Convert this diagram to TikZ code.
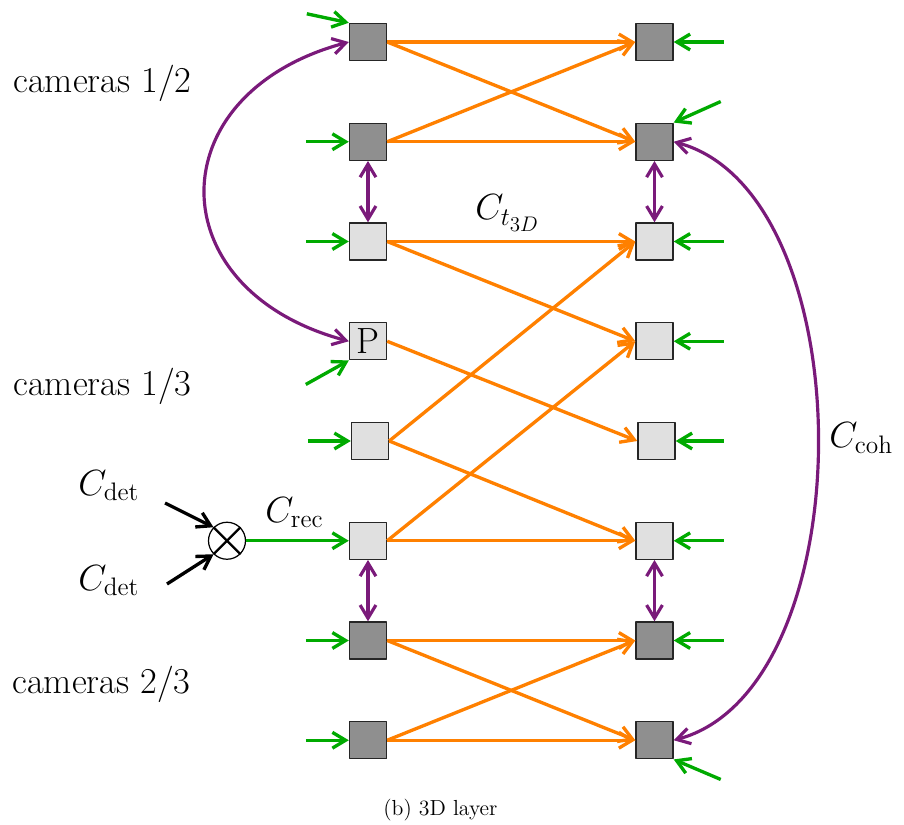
\documentclass[tikz,border=0pt]{standalone}
\usetikzlibrary{arrows.meta}
\definecolor{corange}{RGB}{255,128,0}
\definecolor{cgreen}{RGB}{0,170,0}
\definecolor{cpurple}{RGB}{122,26,122}
\begin{document}
\begin{tikzpicture}[line join=round,>={Straight Barb[length=7.5pt,width=9pt]},every node/.style={inner sep=0pt,font=\huge},
  dbox/.style={draw=black!85,line width=0.8pt,fill=black!44,minimum size=0.74cm},
  lbox/.style={dbox,fill=black!12},
  oarr/.style={->,corange,line width=1.9pt},
  garr/.style={->,cgreen,line width=1.9pt},
  parr/.style={<->,cpurple,line width=1.8pt},
  barr/.style={->,black,line width=1.9pt}]
  \useasboundingbox (0,0) rectangle (18.08,16.48);
  \def\xl{7.36}
  \def\xr{13.09}
  \def\yt{15.64}
  \def\dy{1.995}
  % camera boxes, left and right column
  \node[dbox] (l1) at (\xl,\yt) {};
  \node[dbox] (l2) at (\xl,{\yt-\dy}) {};
  \node[lbox] (l3) at (\xl,{\yt-2*\dy}) {};
  \node[lbox] (l4) at (\xl,{\yt-3*\dy}) {P};
  \node[lbox] (l5) at ({\xl+0.04},{\yt-4*\dy}) {};
  \node[lbox] (l6) at (\xl,{\yt-5*\dy}) {};
  \node[dbox] (l7) at (\xl,{\yt-6*\dy}) {};
  \node[dbox] (l8) at (\xl,{\yt-7*\dy}) {};
  \node[dbox] (r1) at (\xr,\yt) {};
  \node[dbox] (r2) at (\xr,{\yt-\dy}) {};
  \node[lbox] (r3) at (\xr,{\yt-2*\dy}) {};
  \node[lbox] (r4) at (\xr,{\yt-3*\dy}) {};
  \node[lbox] (r5) at ({\xr+0.04},{\yt-4*\dy}) {};
  \node[lbox] (r6) at (\xr,{\yt-5*\dy}) {};
  \node[dbox] (r7) at (\xr,{\yt-6*\dy}) {};
  \node[dbox] (r8) at (\xr,{\yt-7*\dy}) {};
  % 3D transitions
  \draw[oarr] (l1.east) -- (r1.west);
  \draw[oarr] (l1.east) -- (r2.west);
  \draw[oarr] (l2.east) -- (r1.west);
  \draw[oarr] (l2.east) -- (r2.west);
  \draw[oarr] (l3.east) -- (r3.west);
  \draw[oarr] (l3.east) -- (r4.west);
  \draw[oarr] (l4.east) -- (r5.west);
  \draw[oarr] (l5.east) -- (r3.west);
  \draw[oarr] (l5.east) -- (r6.west);
  \draw[oarr] (l6.east) -- (r4.west);
  \draw[oarr] (l6.east) -- (r6.west);
  \draw[oarr] (l7.east) -- (r7.west);
  \draw[oarr] (l7.east) -- (r8.west);
  \draw[oarr] (l8.east) -- (r7.west);
  \draw[oarr] (l8.east) -- (r8.west);
  % inputs
  \coordinate (gl1) at ([shift={(-0.84,0.18)}]l1.north west);
  \coordinate (gl2) at ([xshift=-0.86cm]l2.west);
  \coordinate (gl3) at ([xshift=-0.86cm]l3.west);
  \coordinate (gl4) at ([shift={(-0.86,-0.48)}]l4.south west);
  \coordinate (gl5) at ([xshift=-0.86cm]l5.west);
  \coordinate (gl7) at ([xshift=-0.86cm]l7.west);
  \coordinate (gl8) at ([xshift=-0.86cm]l8.west);
  \coordinate (gr1) at ([xshift=1cm]r1.east);
  \coordinate (gr2) at ([shift={(0.94,0.42)}]r2.north east);
  \coordinate (gr3) at ([xshift=1cm]r3.east);
  \coordinate (gr4) at ([xshift=1cm]r4.east);
  \coordinate (gr5) at ([xshift=0.96cm]r5.east);
  \coordinate (gr6) at ([xshift=1cm]r6.east);
  \coordinate (gr7) at ([xshift=1cm]r7.east);
  \coordinate (gr8) at ([shift={(0.94,-0.4)}]r8.south east);
  \draw[garr] (gl1) -- (l1.north west);
  \draw[garr] (gl2) -- (l2.west);
  \draw[garr] (gl3) -- (l3.west);
  \draw[garr] (gl4) -- (l4.south west);
  \draw[garr] (gl5) -- (l5.west);
  \draw[garr] (gl7) -- (l7.west);
  \draw[garr] (gl8) -- (l8.west);
  \draw[garr] (gr1) -- (r1.east);
  \draw[garr] (gr2) -- (r2.north east);
  \draw[garr] (gr3) -- (r3.east);
  \draw[garr] (gr4) -- (r4.east);
  \draw[garr] (gr5) -- (r5.east);
  \draw[garr] (gr6) -- (r6.east);
  \draw[garr] (gr7) -- (r7.east);
  \draw[garr] (gr8) -- (r8.south east);
  % coherence
  \draw[parr] (l2.south) -- (l3.north);
  \draw[parr] (r2.south) -- (r3.north);
  \draw[parr] (l6.south) -- (l7.north);
  \draw[parr] (r6.south) -- (r7.north);
  \draw[parr] (l1.west) to[out=195,in=165,looseness=1.7] (l4.west);
  \draw[parr] (r2.east) to[out=-15,in=15,looseness=0.85] (r8.east);
  % reconstruction
  \node[draw,circle,line width=0.7pt,minimum size=0.74cm] (ox) at (4.54,{\yt-5*\dy}) {};
  \draw[line width=1.4pt] (ox.north west) -- (ox.south east);
  \draw[line width=1.4pt] (ox.north east) -- (ox.south west);
  \coordinate (d1) at (3.3,6.42);
  \coordinate (d2) at (3.34,4.8);
  \draw[barr] (d1) -- (ox.north west);
  \draw[barr] (d2) -- (ox.south west);
  \draw[garr] (ox.east) -- (l6.west);
  % labels
  \node[anchor=base west] (cam12) at (0.26,14.62) {cameras 1/2};
  \node[anchor=base west] (cam13) at (0.26,8.56) {cameras 1/3};
  \node[anchor=base west] (cam23) at (0.24,2.62) {cameras 2/3};
  \node[anchor=base west] (ct) at (9.5,12.08) {$C_{t_{3D}}$};
  \node[anchor=base west] (crec) at (5.3,6.04) {$C_{\mathrm{rec}}$};
  \node[anchor=base west] (cdet1) at (1.56,6.58) {$C_{\mathrm{det}}$};
  \node[anchor=base west] (cdet2) at (1.56,4.68) {$C_{\mathrm{det}}$};
  \node[anchor=base west] (ccoh) at (16.58,7.52) {$C_{\mathrm{coh}}$};
  \node[anchor=base west,font=\fontsize{12.4}{15}\selectfont] (cap) at (7.66,0.18) {(b) 3D layer};
\end{tikzpicture}
\end{document}
